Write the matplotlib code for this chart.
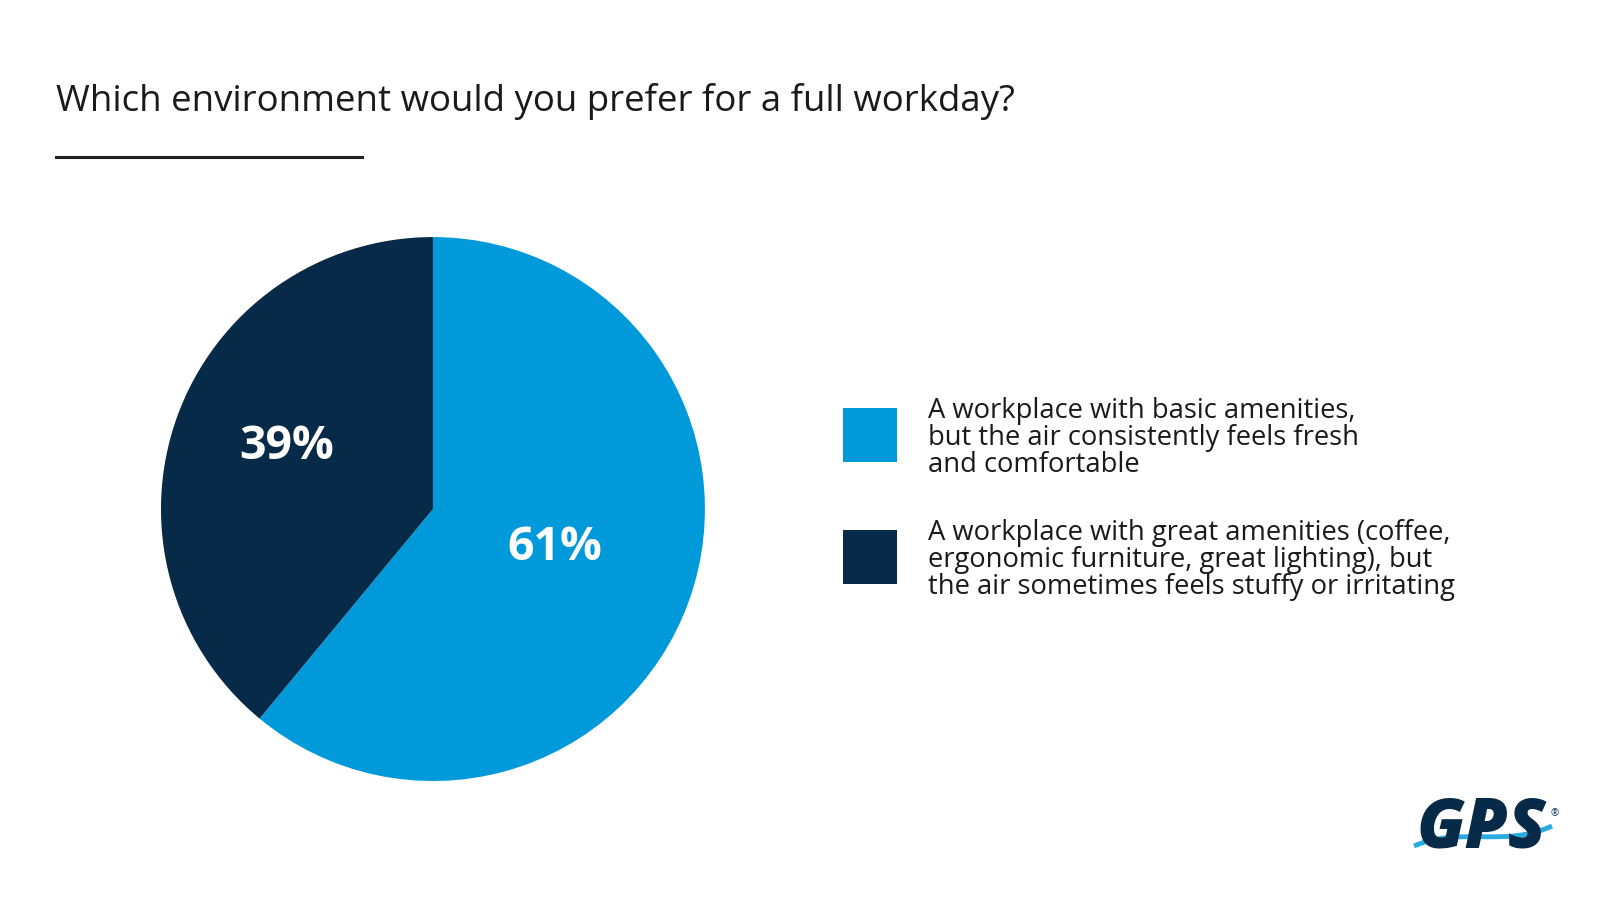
import matplotlib.pyplot as plt
from matplotlib.patches import Rectangle, PathPatch
from matplotlib.path import Path
import numpy as np

plt.rcParams["font.family"] = ["Open Sans", "DejaVu Sans"]

# Data
shares = [61, 39]
pct_labels = ["61%", "39%"]
legend_labels = [
    "A workplace with basic amenities,\nbut the air consistently feels fresh\nand comfortable",
    "A workplace with great amenities (coffee,\nergonomic furniture, great lighting), but\nthe air sometimes feels stuffy or irritating",
]
colors = ["#0099DA", "#062A47"]
label_dist = [0.47, 0.585]
label_nudge = [2.3, -3.3]  # degrees off the wedge bisector

title = "Which environment would you prefer for a full workday?"

fig = plt.figure(figsize=(16, 9), dpi=100)
fig.patch.set_facecolor("white")

# Pie
ax = fig.add_axes([0.1006, 0.1322, 0.34, 0.6044])
wedges, _ = ax.pie(shares, colors=colors, startangle=90, counterclock=False,
                   radius=1.0, wedgeprops=dict(linewidth=0))
for w, lab, d, n in zip(wedges, pct_labels, label_dist, label_nudge):
    mid = np.deg2rad((w.theta1 + w.theta2) / 2 + n)
    ax.text(d * np.cos(mid), d * np.sin(mid), lab, ha="center", va="center",
            color="white", fontsize=33.5, fontweight="bold")
ax.set_xlim(-1, 1)
ax.set_ylim(-1, 1)
ax.set_aspect("equal")
ax.axis("off")

# Title and underline
fig.text(56 / 1600, 1 - 101 / 900, title, fontsize=26.4, color="#1a1a1a",
         ha="left", va="center")
fig.add_artist(plt.Line2D([56 / 1600, 362 / 1600], [1 - 157 / 900, 1 - 157 / 900],
                          color="#222222", linewidth=2.2))

# Legend
sq_y = [435, 557]
for c, lab, y in zip(colors, legend_labels, sq_y):
    fig.add_artist(Rectangle((843 / 1600, 1 - (y + 27) / 900), 54 / 1600, 54 / 900,
                             facecolor=c, edgecolor="none", transform=fig.transFigure))
    fig.text(928 / 1600, 1 - (y + 3) / 900, lab, fontsize=19.7, color="#1a1a1a",
             ha="left", va="center", linespacing=0.97)

# Logo
fig.text(1481 / 1600, 1 - 830 / 900, "GPS", fontsize=50, fontweight="heavy",
         fontstyle="italic", color="#062A47", ha="center", va="center")
fig.text(1555 / 1600, 1 - 814 / 900, "®", fontsize=7, color="#062A47",
         ha="center", va="center")
verts = [(1414, 846), (1460, 826), (1505, 848), (1552, 826)]
verts = [(x / 1600, 1 - y / 900) for x, y in verts]
swoosh = Path(verts, [Path.MOVETO, Path.CURVE4, Path.CURVE4, Path.CURVE4])
fig.add_artist(PathPatch(swoosh, facecolor="none", edgecolor="white",
                         linewidth=7, transform=fig.transFigure))
fig.add_artist(PathPatch(swoosh, facecolor="none", edgecolor="#29ABE2",
                         linewidth=3.5, transform=fig.transFigure))

fig.savefig("out.png", dpi=100, facecolor="white")
